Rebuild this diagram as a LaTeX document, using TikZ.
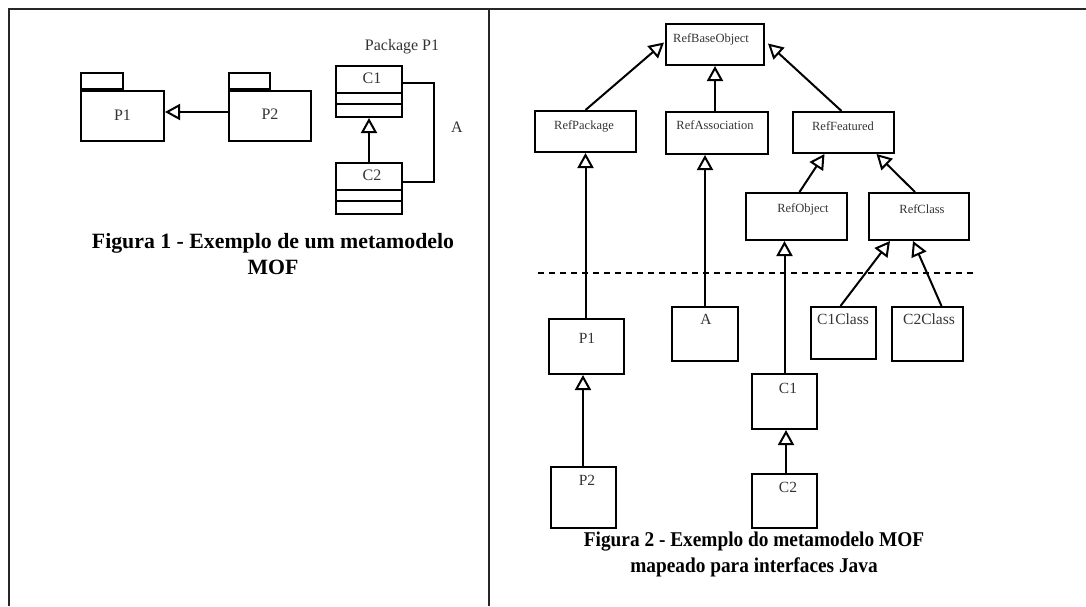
\documentclass[tikz,border=0pt]{standalone}
\usepackage{fontspec}
\setmainfont{Liberation Serif}
\newfontfamily\capfont[FakeStretch=0.92]{Liberation Serif}
\usetikzlibrary{arrows.meta,calc}
\tikzset{
  frameline/.style={line width=2pt, black!85},
  box/.style={draw, line width=2pt, inner sep=0pt},
  gen/.style={line width=2pt, -{Triangle[open,length=15pt,width=16pt,line width=2pt]}},
  thingen/.style={line width=1.2pt, -{Triangle[open,length=15pt,width=16pt,line width=2pt]}},
  assoc/.style={line width=2pt},
  smalllbl/.style={font=\fontsize{12.5}{14}\selectfont, text=black!80, inner sep=0pt},
  biglbl/.style={font=\fontsize{15.5}{18}\selectfont, text=black!80, inner sep=0pt},
  leftlbl/.style={font=\fontsize{16}{18}\selectfont, text=black!80, inner sep=0pt},
  capA/.style={font=\bfseries\fontsize{21.8}{24}\selectfont, inner sep=0pt},
  capB/.style={font=\capfont\bfseries\fontsize{21}{24}\selectfont, inner sep=0pt},
  dashsep/.style={line width=1.5pt, dash pattern=on 6pt off 5pt}
}
\begin{document}
\begin{tikzpicture}[x=1pt,y=-1pt]
\useasboundingbox (0,0) rectangle (1086,606);
% frame
\coordinate (tl) at (9,9);
\coordinate (tr) at (1086,9);
\coordinate (bl) at (9,606);
\coordinate (mt) at (489,9);
\coordinate (mb) at (489,606);
\draw[frameline] (tr) -- (tl) -- (bl);
\draw[frameline] (mt) -- (mb);

% ---------- left panel ----------
\node[box, minimum width=83pt, minimum height=50pt] (lp1) at (122.5,116) {};
\node[box, minimum width=42pt, minimum height=16pt, anchor=south west] (lp1tab) at (lp1.north west) {};
\node[box, minimum width=82pt, minimum height=50pt] (lp2) at (270,116) {};
\node[box, minimum width=41pt, minimum height=16pt, anchor=south west] (lp2tab) at (lp2.north west) {};
\node[leftlbl] (lp1t) at (122.5,115) {P1};
\node[leftlbl] (lp2t) at (270,114) {P2};
\draw[gen] ($(lp2.west)+(0,-4)$) -- ($(lp1.east)+(0,-4)$);

\node[leftlbl] (pkgt) at (402,47) {Package P1};
\node[box, minimum width=66pt, minimum height=51pt] (lc1) at (369,91.5) {};
\draw[line width=2pt] ($(lc1.north west)+(0,28)$) -- ($(lc1.north east)+(0,28)$);
\draw[line width=2pt] ($(lc1.north west)+(0,39)$) -- ($(lc1.north east)+(0,39)$);
\node[leftlbl] (lc1t) at (372,78) {C1};
\node[box, minimum width=66pt, minimum height=51pt] (lc2) at (369,188.5) {};
\draw[line width=2pt] ($(lc2.north west)+(0,28)$) -- ($(lc2.north east)+(0,28)$);
\draw[line width=2pt] ($(lc2.north west)+(0,39)$) -- ($(lc2.north east)+(0,39)$);
\node[leftlbl] (lc2t) at (372,175) {C2};
\draw[thingen] (lc2.north) -- (lc1.south);
\coordinate (as1) at (434,83);
\coordinate (as2) at (434,182);
\draw[assoc] (lc1.east |- as1) -- (as1) -- (as2) -- (lc2.east |- as2);
\node[leftlbl] (assoct) at (457,127) {A};

\node[capA] (cap1a) at (273,243) {Figura 1 - Exemplo de um metamodelo};
\node[capA] (cap1b) at (273,267) {MOF};

% ---------- right panel ----------
\node[box, minimum width=98pt, minimum height=41pt] (rbo) at (715,44.5) {};
\node[box, minimum width=101pt, minimum height=41pt] (rp) at (585.5,131.5) {};
\node[box, minimum width=102pt, minimum height=42pt] (ra) at (717,133) {};
\node[box, minimum width=101pt, minimum height=41pt] (rf) at (843.5,132.5) {};
\node[box, minimum width=101pt, minimum height=47pt] (ro) at (796.5,216.5) {};
\node[box, minimum width=100pt, minimum height=47pt] (rc) at (919,216.5) {};
\node[box, minimum width=75pt, minimum height=55pt] (p1) at (586.5,346.5) {};
\node[box, minimum width=66pt, minimum height=54pt] (a) at (705,334) {};
\node[box, minimum width=65pt, minimum height=52pt] (c1c) at (843.5,333) {};
\node[box, minimum width=71pt, minimum height=54pt] (c2c) at (927.5,334) {};
\node[box, minimum width=65pt, minimum height=55pt] (c1) at (784.5,401.5) {};
\node[box, minimum width=65pt, minimum height=54pt] (c2) at (784.5,501) {};
\node[box, minimum width=65pt, minimum height=61pt] (p2) at (583.5,497.5) {};

\node[smalllbl] at (711,39) {RefBaseObject};
\node[smalllbl] at (584,126) {RefPackage};
\node[smalllbl] at (715,125) {RefAssociation};
\node[smalllbl] at (843,126) {RefFeatured};
\node[smalllbl] at (803,209) {RefObject};
\node[smalllbl] at (922,209) {RefClass};
\node[biglbl] at (587,338) {P1};
\node[biglbl] at (706,319) {A};
\node[biglbl] at (843,319) {C1Class};
\node[biglbl] at (929,319) {C2Class};
\node[biglbl] at (788,388) {C1};
\node[biglbl] at (788,487) {C2};
\node[biglbl] at (587,480) {P2};

\draw[gen] (rp.north) -- ($(rbo.west)+(-1,-2)$);
\draw[gen] (ra.north -| rbo.south) -- (rbo.south);
\draw[gen] ($(rf.north)+(-2,0)$) -- ($(rbo.east)+(3,-1)$);
\draw[gen] ($(ro.north)+(3,0)$) -- ($(rf.south)+(-19,0)$);
\draw[gen] ($(rc.north)+(-4,0)$) -- ($(rf.south)+(33,0)$);

\coordinate (dl) at (538,273);
\coordinate (dr) at (973,273);
\draw[dashsep] (dl) -- (dr);

\draw[gen] (p1.north -| rp.south) -- (rp.south);
\draw[gen] (a.north) -- (a.north |- ra.south);
\draw[gen] (c1.north) -- (c1.north |- ro.south);
\draw[gen] ($(c1c.north)+(-3,0)$) -- ($(rc.south)+(-29,0)$);
\draw[gen] ($(c2c.north)+(14,0)$) -- ($(rc.south)+(-6,0)$);
\draw[gen] ($(p2.north)+(-0.5,0)$) -- ($(p1.south)+(-3.5,0)$);
\draw[thingen] ($(c2.north)+(1.5,0)$) -- ($(c1.south)+(1.5,0)$);

\node[capB] (cap2a) at (754,542) {Figura 2 - Exemplo do metamodelo MOF};
\node[capB] (cap2b) at (754,567) {mapeado para interfaces Java};
\end{tikzpicture}
\end{document}
